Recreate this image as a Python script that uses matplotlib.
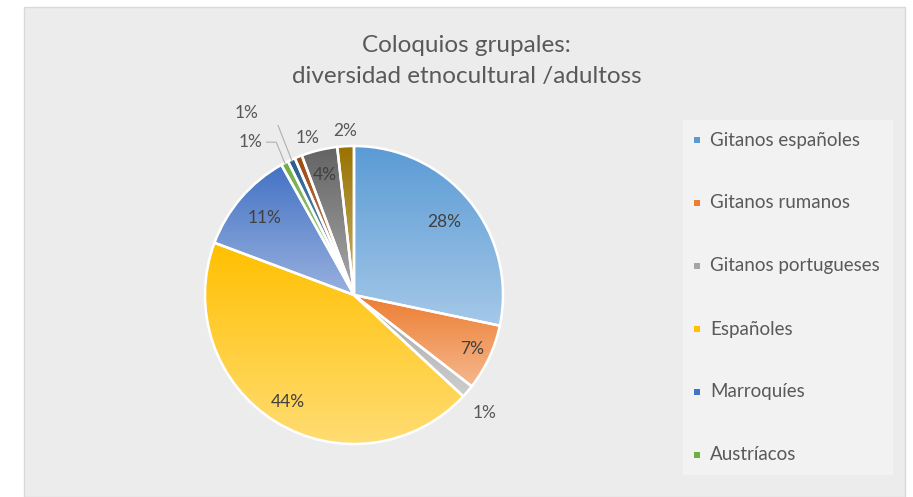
import numpy as np
import matplotlib
matplotlib.use("Agg")
import matplotlib.pyplot as plt
from matplotlib.patches import Rectangle
from matplotlib.colors import to_rgb

# ---------------- data ----------------
title_lines = ["Coloquios grupales:", "diversidad etnocultural /adultoss"]
legend_names = ["Gitanos españoles", "Gitanos rumanos", "Gitanos portugueses",
                "Españoles", "Marroquíes", "Austríacos"]
shares = [28.3, 7.2, 1.4, 43.8, 11.2, 0.8, 0.8, 0.8, 3.9, 1.8]
pct_labels = ["28%", "7%", "1%", "44%", "11%", "1%", "1%", "1%", "4%", "2%"]
colors = ["#5B9BD5", "#ED7D31", "#A5A5A5", "#FFC000", "#4472C4",
          "#70AD47", "#255E91", "#9E480E", "#636363", "#997300"]

# label placement (radius in pie radii, angle in degrees; None -> wedge middle)
label_r = [0.78, 0.87, 1.18, 0.84, 0.79, 1.24, 1.42, 1.10, 0.83, 1.10]
label_ang = [None, None, -42, None, None, 124.2, 120.4, 106.6, None, 93.1]
leader = [False, False, False, False, False, True, True, False, False, False]

# ---------------- figure ----------------
W, H = 913, 497
plt.rcParams['font.family'] = ['Lato', 'DejaVu Sans']
fig = plt.figure(figsize=(W / 100, H / 100), dpi=100)
fig.patch.set_facecolor("white")

fig.patches.append(Rectangle((24 / W, 0), (905 - 24) / W, (H - 7) / H,
                             transform=fig.transFigure, fc="#ececec",
                             ec="#d9d9d9", lw=1.0, zorder=-10))
fig.patches.append(Rectangle((683 / W, (H - 475) / H), (893 - 683) / W, (475 - 120) / H,
                             transform=fig.transFigure, fc="#f2f2f2",
                             ec="none", zorder=-9))

# title
fig.text(466 / W, 1 - 45 / H, title_lines[0], ha="center", va="center",
         fontsize=17.5, color="#595959")
fig.text(467 / W, 1 - 76 / H, title_lines[1], ha="center", va="center",
         fontsize=17.5, color="#595959")

# pie axes
cx, cy, R, half = 354, 295, 149, 170
ax = fig.add_axes([(cx - half) / W, (H - cy - half) / H, 2 * half / W, 2 * half / H])
wedges, _ = ax.pie(shares, colors=colors, startangle=90, counterclock=False,
                   radius=1, wedgeprops=dict(edgecolor="white", linewidth=1.8))

for w, c in zip(wedges, colors):
    ext = w.get_path().get_extents()
    rgb = np.array(to_rgb(c))
    light = rgb + (1 - rgb) * 0.45
    g = np.linspace(0, 1, 128)[:, None, None]
    img = rgb[None, None, :] * (1 - g) + light[None, None, :] * g
    im = ax.imshow(img, extent=(ext.x0, ext.x1, ext.y0, ext.y1), aspect="auto",
                   interpolation="bilinear", zorder=1, origin="upper")
    im.set_clip_path(w)
    w.set_facecolor("none")
    w.set_zorder(2)

lim = half / R
ax.set_xlim(-lim, lim)
ax.set_ylim(-lim, lim)
ax.set_aspect("equal")
ax.axis("off")

for i, w in enumerate(wedges):
    mid = (w.theta1 + w.theta2) / 2.0
    ang = mid if label_ang[i] is None else label_ang[i]
    r = label_r[i]
    x, y = r * np.cos(np.radians(ang)), r * np.sin(np.radians(ang))
    col = "#404040" if r < 1 else "#595959"
    ax.text(x, y, pct_labels[i], ha="center", va="center", fontsize=12.5,
            color=col, zorder=5)
    if leader[i]:
        ex, ey = np.cos(np.radians(mid)), np.sin(np.radians(mid))
        ax.plot([x + 0.11, x + 0.175, ex * 0.99], [y, y, ey * 0.99],
                color="#b0b0b0", lw=0.8, zorder=4)

# legend
for i, name in enumerate(legend_names):
    yy = 140 + 63 * i
    fig.patches.append(Rectangle((694 / W, (H - yy - 3) / H), 6 / W, 6 / H,
                                 transform=fig.transFigure, fc=colors[i],
                                 ec="none", zorder=3))
    fig.text(710 / W, 1 - yy / H, name, ha="left", va="center",
             fontsize=13.5, color="#595959")

fig.savefig("out.png", dpi=100)
